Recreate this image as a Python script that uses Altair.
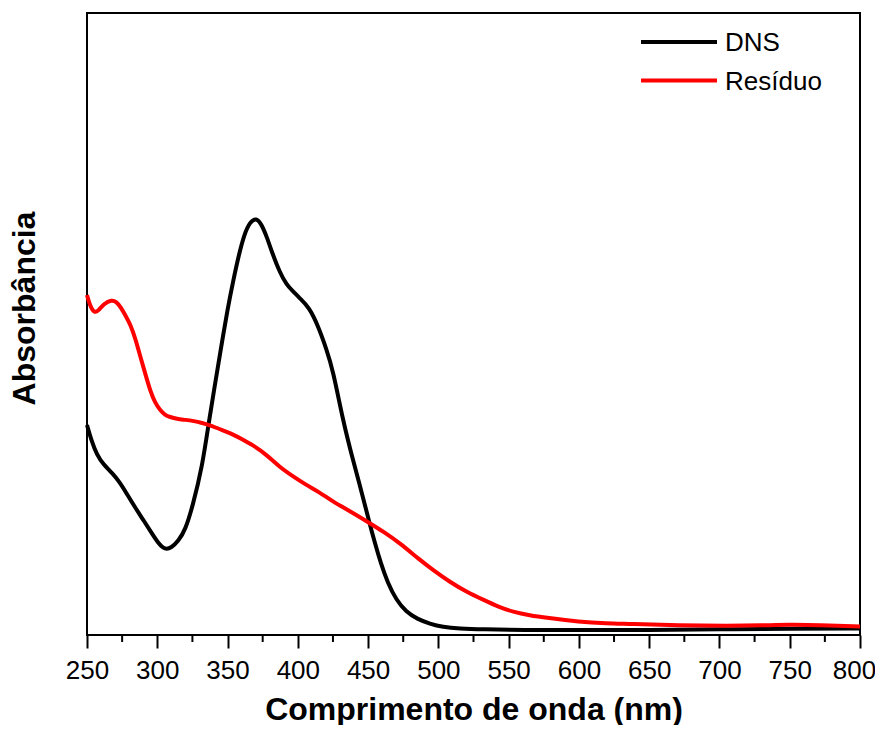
import altair as alt
import pandas as pd

# Wavelength (nm) and absorbance readings
dns_nm = [250, 253, 257, 262, 268, 273, 278, 284, 290, 296, 301, 305.5, 310, 315, 320, 325, 332, 337, 341, 345,
          350, 354, 358, 362, 366, 370.5, 374, 378, 382, 387, 392, 397, 401, 408, 415, 420, 425, 432, 439, 445,
          451, 455, 459, 464, 470, 477, 485, 494, 503, 515, 531, 560, 600, 650, 700, 750, 800]
dns_abs = [0.525, 0.488, 0.45, 0.425, 0.405, 0.383, 0.355, 0.32, 0.288, 0.255, 0.228, 0.213, 0.218, 0.235, 0.263,
           0.32, 0.42, 0.54, 0.625, 0.71, 0.815, 0.885, 0.95, 1.003, 1.033, 1.043, 1.028, 0.995, 0.953, 0.908,
           0.875, 0.858, 0.843, 0.82, 0.768, 0.718, 0.663, 0.538, 0.44, 0.363, 0.28, 0.228, 0.18, 0.13, 0.088,
           0.058, 0.04, 0.028, 0.02, 0.016, 0.014, 0.0125, 0.0125, 0.0125, 0.014, 0.016, 0.016]

res_nm = [250, 252, 255, 258, 262, 267.5, 271, 274, 278, 281, 284.5, 288, 291.5, 295, 298.5, 302, 305.5, 309, 314,
          320, 326, 332, 337, 344, 352, 360, 368, 378, 387, 396, 406, 415, 425, 437, 451, 461, 472.5, 486.7, 496,
          508, 520, 532, 543, 553, 565, 577, 600, 620, 636, 671, 707, 730, 750, 770, 800]
res_abs = [0.85, 0.825, 0.805, 0.81, 0.828, 0.838, 0.833, 0.82, 0.795, 0.775, 0.74, 0.695, 0.653, 0.61, 0.58,
           0.562, 0.55, 0.545, 0.54, 0.538, 0.535, 0.53, 0.525, 0.515, 0.505, 0.49, 0.475, 0.45, 0.42, 0.398,
           0.375, 0.358, 0.333, 0.31, 0.28, 0.258, 0.23, 0.188, 0.163, 0.133, 0.108, 0.088, 0.07, 0.058, 0.049,
           0.043, 0.033, 0.029, 0.028, 0.024, 0.023, 0.024, 0.026, 0.025, 0.021]

series_names = ["DNS", "Resíduo"]
series_colors = ["#000000", "#ff0000"]
major_ticks = [250, 300, 350, 400, 450, 500, 550, 600, 650, 700, 750, 800]
minor_ticks = [275, 325, 375, 425, 475, 525, 575, 625, 675, 725, 775]

df = pd.concat([
    pd.DataFrame({"nm": dns_nm, "abs": dns_abs, "serie": series_names[0], "ord": range(len(dns_nm))}),
    pd.DataFrame({"nm": res_nm, "abs": res_abs, "serie": series_names[1], "ord": range(len(res_nm))}),
])

FONT = "Liberation Sans"
W, H = 773, 622

x_scale = alt.Scale(domain=[250, 800], nice=False, zero=False)
y_scale = alt.Scale(domain=[0, 1.555], nice=False, zero=True)

lines = alt.Chart(df).mark_line(strokeWidth=4, interpolate="basis").encode(
    x=alt.X("nm:Q", scale=x_scale,
            axis=alt.Axis(values=major_ticks, title="Comprimento de onda (nm)", domain=False,
                          tickSize=13, tickWidth=2, tickColor="black", labelFontSize=26,
                          labelFont=FONT, labelColor="black", labelPadding=9, labelFlush=False,
                          labelOffset=alt.condition("datum.value == 800", alt.value(-6), alt.value(0)),
                          labelOverlap=False, grid=False,
                          titleFont=FONT, titleFontSize=32, titleFontWeight="bold",
                          titleColor="black", titleBaseline="alphabetic", titleY=84)),
    y=alt.Y("abs:Q", scale=y_scale,
            axis=alt.Axis(title="Absorbância", labels=False, ticks=False, domain=False, grid=False,
                          titleFont=FONT, titleFontSize=32, titleFontWeight="bold", titleColor="black",
                          titleAngle=270, titleAlign="center", titleBaseline="bottom",
                          titleX=-46, titleY=295)),
    color=alt.Color("serie:N", scale=alt.Scale(domain=series_names, range=series_colors), legend=None),
    order="ord:Q",
    detail="serie:N",
)

minor = alt.Chart(pd.DataFrame({"nm": minor_ticks})).mark_rule(color="black", strokeWidth=2).encode(
    x=alt.X("nm:Q", scale=x_scale),
    y=alt.value(H),
    y2=alt.value(H + 7),
)

legend_layers = []
for i, (name, col) in enumerate(zip(series_names, series_colors)):
    ly = 29 + i * 38.5
    ldf = pd.DataFrame({"label": [name]})
    legend_layers.append(
        alt.Chart(ldf).mark_rule(color=col, strokeWidth=4).encode(
            x=alt.value(554), x2=alt.value(630), y=alt.value(ly))
    )
    legend_layers.append(
        alt.Chart(ldf).mark_text(align="left", baseline="middle", font=FONT, fontSize=26, color="black").encode(
            x=alt.value(638), y=alt.value(ly + 1), text="label:N")
    )

chart = alt.layer(lines, minor, *legend_layers).properties(
    width=W, height=H,
    autosize=alt.AutoSizeParams(type="none"),
    padding={"left": 79, "top": 5, "right": 15, "bottom": 90},
).configure(background="white").configure_view(stroke="black", strokeWidth=2)

chart.save("out.html", embed_options={"renderer": "svg", "actions": False})
